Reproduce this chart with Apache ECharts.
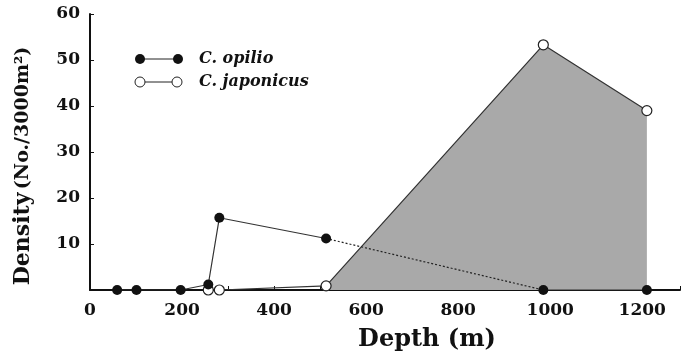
<!DOCTYPE html>
<html>
<head>
<meta charset="utf-8">
<script src="https://cdn.jsdelivr.net/npm/echarts@6/dist/echarts.min.js"></script>
<style>html,body{margin:0;padding:0;background:#fff;overflow:hidden;}#c{width:683px;height:355px;}</style>
</head>
<body>
<div id="c"></div>
<script>
// Depth (m) and density (No./3000m²)
const opilioDepth   = [59, 101, 197, 257, 281, 513, 985, 1210];
const opilioDensity = [0, 0, 0, 1.2, 15.7, 11.2, 0, 0];
const japonicusDepth   = [257, 281, 513, 985, 1210];
const japonicusDensity = [0, 0, 0.9, 53.3, 39.0];
const xTicks = [0, 200, 400, 600, 800, 1000, 1200];
const yTicks = [0, 10, 20, 30, 40, 50, 60];

const pts = (xs, ys) => xs.map((x, i) => [x, ys[i]]);
const opilio = pts(opilioDepth, opilioDensity);
const japonicus = pts(japonicusDepth, japonicusDensity);

const FONT = 'DejaVu Serif';
const chart = echarts.init(document.getElementById('c'));
const axisLine = {show: true, lineStyle: {color: '#111', width: 2}};
chart.setOption({
  animation: false,
  grid: {left: 90, right: 0, top: 14, bottom: 65, containLabel: false},
  xAxis: {
    type: 'value', min: 0, max: 1282, interval: 100,
    axisLine: axisLine,
    axisTick: {show: true, inside: true, length: 4, lineStyle: {color: '#111', width: 1}},
    splitLine: {show: false},
    axisLabel: {
      margin: 12, color: '#111', fontFamily: FONT, fontWeight: 'bold', fontSize: 17,
      formatter: v => xTicks.includes(v) ? String(v) : ''
    }
  },
  yAxis: {
    type: 'value', min: 0, max: 60, interval: 10,
    axisLine: axisLine,
    axisTick: {show: true, inside: true, length: 4, lineStyle: {color: '#111', width: 1}},
    splitLine: {show: false},
    axisLabel: {
      margin: 10, color: '#111', fontFamily: FONT, fontWeight: 'bold', fontSize: 17,
      formatter: v => yTicks.includes(v) && v !== 0 ? String(v) : ''
    }
  },
  series: [
    {
      name: 'shade', type: 'line', data: japonicus.slice(2), symbol: 'none',
      lineStyle: {width: 0}, areaStyle: {color: '#a9a9a9', opacity: 1}, z: 1
    },
    {
      name: 'C. japonicus', type: 'line', data: japonicus, symbol: 'circle', symbolSize: 10,
      lineStyle: {color: '#333', width: 1.2},
      itemStyle: {color: '#fff', borderColor: '#222', borderWidth: 1.2}, z: 3
    },
    {
      name: 'C. opilio', type: 'line', data: opilio.slice(0, 6), symbol: 'circle', symbolSize: 10,
      lineStyle: {color: '#333', width: 1.2},
      itemStyle: {color: '#111'}, z: 4
    },
    {
      name: 'opilio dotted', type: 'line', data: opilio.slice(5, 7), symbol: 'none',
      lineStyle: {color: '#222', width: 1.2, type: [2, 2]}, z: 4
    },
    {
      name: 'opilio deep', type: 'line', data: opilio.slice(6), symbol: 'circle', symbolSize: 10,
      lineStyle: {color: '#333', width: 1.2},
      itemStyle: {color: '#111'}, z: 4
    }
  ],
  graphic: [
    {type: 'line', shape: {x1: 140, y1: 59, x2: 178, y2: 59}, style: {stroke: '#222', lineWidth: 1}, z: 10},
    {type: 'circle', shape: {cx: 140, cy: 59, r: 5}, style: {fill: '#111'}, z: 11},
    {type: 'circle', shape: {cx: 178, cy: 59, r: 5}, style: {fill: '#111'}, z: 11},
    {type: 'text', x: 199, y: 59, style: {text: 'C. opilio', fontFamily: FONT, fontWeight: 'bold', fontStyle: 'italic', fontSize: 16, fill: '#111', verticalAlign: 'middle'}, z: 11},
    {type: 'line', shape: {x1: 140, y1: 82, x2: 177, y2: 82}, style: {stroke: '#222', lineWidth: 1}, z: 10},
    {type: 'circle', shape: {cx: 140, cy: 82, r: 5}, style: {fill: '#fff', stroke: '#222', lineWidth: 1}, z: 11},
    {type: 'circle', shape: {cx: 177, cy: 82, r: 5}, style: {fill: '#fff', stroke: '#222', lineWidth: 1}, z: 11},
    {type: 'text', x: 199, y: 82, style: {text: 'C. japonicus', fontFamily: FONT, fontWeight: 'bold', fontStyle: 'italic', fontSize: 16, fill: '#111', verticalAlign: 'middle'}, z: 11},
    {type: 'text', x: 427, y: 340, style: {text: 'Depth (m)', fontFamily: FONT, fontWeight: 'bold', fontSize: 24, fill: '#111', align: 'center', verticalAlign: 'middle'}, z: 11},
    {type: 'text', x: 23, y: 166, rotation: Math.PI / 2,
      style: {text: '{a|Density} {b|(No./3000m²)}', align: 'center', verticalAlign: 'middle', fill: '#111',
        rich: {
          a: {fontFamily: FONT, fontWeight: 'bold', fontSize: 22, fill: '#111'},
          b: {fontFamily: FONT, fontWeight: 'bold', fontSize: 19, fill: '#111'}
        }}, z: 11}
  ]
});
</script>
</body>
</html>
